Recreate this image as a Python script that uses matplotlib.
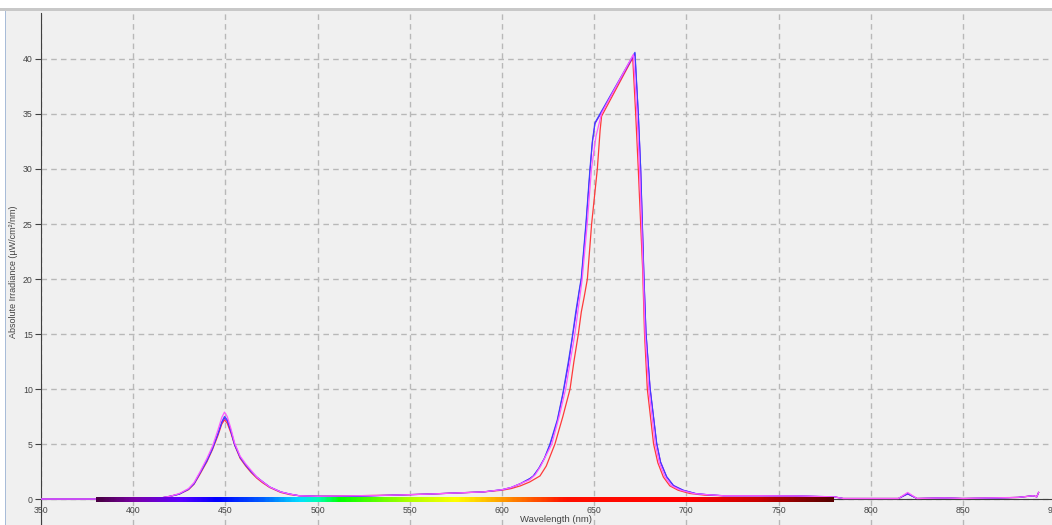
import numpy as np
import matplotlib
matplotlib.use("Agg")
import matplotlib.pyplot as plt
from matplotlib.colors import LinearSegmentedColormap
from matplotlib.patches import Rectangle

plt.rcParams['font.family'] = ['Liberation Sans', 'DejaVu Sans']

# --- spectra (wavelength in nm, irradiance in uW/cm^2/nm) ---
blue_wl = [350, 380, 400, 410, 415, 420, 425, 430, 433, 436,
           440, 443, 446, 448, 449.5, 451, 453, 455, 458, 461,
           464, 467, 470, 474, 480, 485, 490, 500, 520, 540,
           560, 575, 590, 600, 605, 610, 615, 617, 620, 623,
           626, 630, 633, 636, 638, 640, 642, 643, 645.5, 647.7,
           649, 650.4, 672.1, 673.9, 675.2, 676.1, 677, 678.1, 680.3, 683.9,
           686, 689.3, 693, 698.3, 705, 711, 720, 740, 760, 780,
           785, 800, 815, 820, 825, 840, 850, 870, 880, 888,
           890, 891]
blue = [0, 0, 0, 0.05, 0.1, 0.25, 0.45, 0.9, 1.4, 2.3,
        3.5, 4.6, 6.0, 7.0, 7.5, 7.2, 6.2, 5.0, 3.8, 3.1,
        2.5, 2.0, 1.6, 1.1, 0.65, 0.45, 0.3, 0.25, 0.25, 0.35,
        0.45, 0.55, 0.65, 0.85, 1.05, 1.4, 1.85, 2.1, 2.8, 3.7,
        5.0, 7.2, 9.6, 12.5, 14.6, 17.0, 19.1, 20.1, 25.0, 30.0,
        32.5, 34.2, 40.6, 35.0, 30.0, 25.0, 20.0, 15.0, 10.0, 5.0,
        3.3, 2.0, 1.2, 0.8, 0.5, 0.4, 0.3, 0.3, 0.28, 0.2,
        0.05, 0.05, 0.05, 0.5, 0.05, 0.1, 0.05, 0.1, 0.15, 0.3,
        0.2, 0.6]
purple = [0, 0, 0, 0.05, 0.1, 0.25, 0.45, 0.9, 1.4, 2.3,
          3.5, 4.6, 5.9, 6.9, 7.35, 7.1, 6.1, 4.9, 3.8, 3.1,
          2.5, 2.0, 1.6, 1.1, 0.65, 0.45, 0.3, 0.25, 0.25, 0.35,
          0.45, 0.55, 0.65, 0.85, 1.05, 1.4, 1.85, 2.1, 2.8, 3.7,
          4.9, 7.1, 9.5, 12.2, 14.5, 16.7, 19.0, 19.9, 24.8, 29.8,
          32.4, 34.1, 40.5, 35.2, 30.2, 25.2, 20.2, 15.2, 10.2, 5.1,
          3.4, 2.05, 1.25, 0.8, 0.5, 0.4, 0.3, 0.3, 0.28, 0.2,
          0.05, 0.05, 0.05, 0.45, 0.05, 0.1, 0.05, 0.1, 0.15, 0.3,
          0.2, 0.6]

red_wl = [350, 380, 400, 410, 415, 420, 425, 430, 433, 436,
          440, 443, 446, 448, 449.5, 451, 453, 455, 458, 461,
          464, 467, 470, 474, 480, 485, 490, 500, 520, 540,
          560, 575, 590, 600, 605, 610, 615, 620.6, 624, 628.7,
          633, 636.9, 639, 641.4, 643, 644.6, 646.3, 648.6, 651.7, 653.2,
          654, 670.9, 672.5, 673.9, 675.2, 676.3, 677.3, 678.8, 682.2, 684.5,
          687.5, 691, 695.5, 702, 710, 720, 740, 760, 780, 785,
          800, 815, 820, 825, 840, 850, 870, 880, 888, 890,
          891]
red = [0, 0, 0, 0.05, 0.1, 0.25, 0.45, 0.85, 1.35, 2.2,
       3.4, 4.5, 5.8, 6.8, 7.2, 6.9, 6.0, 4.9, 3.7, 3.0,
       2.4, 1.9, 1.5, 1.05, 0.6, 0.4, 0.3, 0.25, 0.3, 0.35,
       0.45, 0.55, 0.65, 0.8, 0.95, 1.2, 1.55, 2.1, 3.0, 5.0,
       7.5, 10.0, 12.5, 15.0, 17.0, 18.4, 20.0, 25.0, 30.0, 33.5,
       34.8, 40.1, 35.0, 30.0, 25.0, 20.8, 15.0, 10.0, 5.0, 3.3,
       2.0, 1.2, 0.8, 0.5, 0.35, 0.3, 0.3, 0.25, 0.2, 0.05,
       0.05, 0.05, 0.5, 0.05, 0.1, 0.05, 0.1, 0.15, 0.3, 0.2,
       0.6]

mag_wl = [350, 380, 400, 410, 415, 420, 425, 430, 433, 436,
          440, 443, 446, 448, 449.5, 451, 453, 455, 458, 461,
          464, 467, 470, 474, 480, 485, 490, 500, 520, 540,
          560, 575, 590, 600, 605, 610, 615, 618, 621, 624,
          627, 631, 634.5, 637, 639.5, 641.5, 643.5, 646.2, 648.5, 651,
          654, 671.2, 673.2, 674.6, 675.7, 676.6, 677.6, 679.6, 683.1, 685.3,
          688.4, 692, 697, 704, 711, 720, 740, 760, 780, 785,
          800, 815, 820, 825, 840, 850, 870, 880, 888, 890,
          891]
mag = [0, 0, 0, 0.05, 0.1, 0.25, 0.5, 0.95, 1.5, 2.4,
       3.7, 4.8, 6.3, 7.4, 7.9, 7.5, 6.4, 5.1, 3.9, 3.2,
       2.6, 2.0, 1.6, 1.1, 0.65, 0.45, 0.3, 0.25, 0.3, 0.35,
       0.45, 0.55, 0.65, 0.85, 1.05, 1.4, 1.75, 2.2, 3.0, 4.0,
       5.0, 7.5, 10.0, 12.5, 15.0, 17.5, 20.0, 25.0, 30.0, 33.0,
       35.06, 40.4, 35.0, 30.0, 25.0, 20.4, 15.0, 10.0, 5.0, 3.3,
       2.0, 1.2, 0.8, 0.5, 0.4, 0.3, 0.3, 0.28, 0.2, 0.05,
       0.05, 0.05, 0.6, 0.05, 0.1, 0.05, 0.12, 0.15, 0.3, 0.2,
       0.6]

x_ticks = list(range(350, 901, 50))
y_ticks = list(range(0, 41, 5))

# visible-spectrum strip under the curves
spectrum_stops = [(380, '#4a0044'), (400, '#7a00a8'), (425, '#5a00ff'),
                  (445, '#0000ff'), (470, '#0060ff'), (490, '#00e0ff'),
                  (500, '#00ffb0'), (512, '#00ff00'), (550, '#b0ff00'),
                  (575, '#ffff00'), (592, '#ffc000'), (612, '#ff6a00'),
                  (635, '#ff1000'), (700, '#ff0000'), (740, '#c80000'),
                  (780, '#580000')]

W, H = 1052, 525
BG = '#f0f0f0'
TXT = '#444444'

fig = plt.figure(figsize=(W / 100, H / 100), dpi=100, facecolor='white')

# window panel, top bar and left edge
fig.add_artist(Rectangle((6 / W, 0), 1, (H - 10.7) / H, transform=fig.transFigure,
                         facecolor=BG, edgecolor='none', zorder=0))
fig.add_artist(Rectangle((0, (H - 10.7) / H), 1, 2.7 / H, transform=fig.transFigure,
                         facecolor='#c8c8c8', edgecolor='none', zorder=0))
fig.add_artist(Rectangle((5 / W, 0), 1 / W, (H - 10.7) / H, transform=fig.transFigure,
                         facecolor='#a8bcd8', edgecolor='none', zorder=0))

# axes geometry: 350 nm at x=41 px, 1.844 px per nm; 0 at y=499 px, 11 px per unit
x0, x1 = 350, 910
y0, y1 = -2.36, 44.18
ax_left = 41 / W
ax_w = (x1 - x0) * 1.844 / W
ax_top = 13
ax = fig.add_axes([ax_left, 0, ax_w, (H - ax_top) / H])
ax.set_facecolor(BG)

ax.grid(True, color='#b8b8b8', linestyle=(0, (4, 3)), linewidth=1.0)
ax.set_axisbelow(True)

for side in ('top', 'right'):
    ax.spines[side].set_visible(False)
ax.spines['left'].set_color('#404040')
ax.spines['bottom'].set_color('#404040')
ax.spines['bottom'].set_position(('data', 0))
ax.spines['bottom'].set_zorder(2)

ax.set_xticks(x_ticks)
ax.set_yticks(y_ticks)
ax.tick_params(axis='x', length=0, pad=5, labelsize=6.3, labelcolor=TXT)
ax.tick_params(axis='y', length=4, width=0.8, color='#404040', pad=2,
               labelsize=6.3, labelcolor=TXT)

# spectrum strip
cmap = LinearSegmentedColormap.from_list(
    'spectrum', [((w - 380) / 400, c) for w, c in spectrum_stops])
strip = np.linspace(0, 1, 400).reshape(1, -1)
ax.imshow(strip, cmap=cmap, aspect='auto', extent=[380, 780, -0.3, 0.15],
          interpolation='bilinear', zorder=5)

ax.plot(red_wl, red, color='#ff3a3a', linewidth=0.9, zorder=3)
ax.plot(blue_wl, purple, color='#8a00ff', linewidth=0.7, zorder=3.1)
ax.plot(blue_wl, blue, color='#4040ff', linewidth=0.9, zorder=3.2)
ax.plot(mag_wl, mag, color='#ff5aff', linewidth=0.9, zorder=3.3)

ax.set_xlim(x0, x1)
ax.set_ylim(y0, y1)

fig.text(14 / W, 1 - 272 / H, 'Absolute Irradiance (µW/cm²/nm)', rotation=90,
         ha='center', va='center', fontsize=6.5, color=TXT)
fig.text(556 / W, (H - 515) / H, 'Wavelength (nm)', ha='center', va='top',
         fontsize=6.8, color=TXT)

fig.savefig('out.png', dpi=100, facecolor=fig.get_facecolor())
